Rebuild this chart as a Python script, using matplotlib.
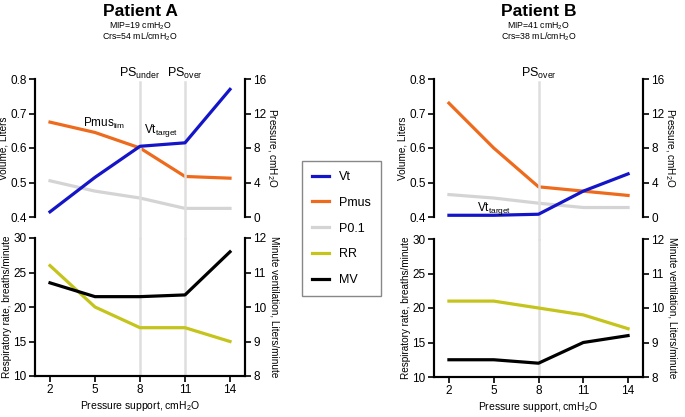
import matplotlib
matplotlib.use("Agg")
import matplotlib.pyplot as plt
from matplotlib.lines import Line2D

plt.rcParams['font.family'] = ['Liberation Sans', 'DejaVu Sans']
plt.rcParams['mathtext.default'] = 'regular'

# pressure support levels
ps = [2, 5, 8, 11, 14]

# Patient A
a_vt = [0.415, 0.515, 0.605, 0.615, 0.77]
a_pmus = [11.0, 9.8, 8.0, 4.7, 4.5]
a_p01 = [4.2, 3.0, 2.2, 1.0, 1.0]
a_rr = [26, 20, 17, 17, 15]
a_mv = [10.7, 10.3, 10.3, 10.35, 11.6]

# Patient B
b_vt = [0.405, 0.405, 0.408, 0.475, 0.525]
b_pmus = [13.2, 8.0, 3.5, 3.0, 2.5]
b_p01 = [2.6, 2.2, 1.6, 1.1, 1.1]
b_rr = [21, 21, 20, 19, 17]
b_mv = [8.5, 8.5, 8.4, 9.0, 9.2]

C_VT = '#1414c8'
C_PMUS = '#ee6a1c'
C_P01 = '#d4d4d4'
C_RR = '#c4c41c'
C_MV = '#000000'
C_GRID = '#dedede'
LW = 2.3
FS = 8.5
LFS = 7.2

W, H = 685, 417
fig = plt.figure(figsize=(W / 100, H / 100), dpi=100)


def box(l, t, r, b):
    return [l / W, 1 - b / H, (r - l) / W, (b - t) / H]


def style(ax, bottom=False):
    ax.spines['top'].set_visible(False)
    ax.spines['bottom'].set_visible(bottom)
    for s in ('left', 'right', 'bottom'):
        ax.spines[s].set_linewidth(1.5)
    ax.tick_params(labelsize=FS, width=1.2, length=4, pad=2, direction='out')


def panel(left, right, top_y, bot_y, vt, pmus, p01, rr, mv, ps_lines, title, sub):
    ax1 = fig.add_axes(box(left, top_y[0], right, top_y[1]))
    ax1r = ax1.twinx()
    ax2 = fig.add_axes(box(left, bot_y[0], right, bot_y[1]))
    ax2r = ax2.twinx()

    # gray lines marking PS levels, spanning both panels
    gap = (bot_y[0] - top_y[1]) / (top_y[1] - top_y[0])
    for x, lab in ps_lines:
        ax1.axvline(x, ymin=-gap, ymax=0.98, color=C_GRID, lw=1.8,
                    clip_on=False, zorder=0)
        ax2.axvline(x, color=C_GRID, lw=1.8, zorder=0)
        ax1.text(x, 0.806, lab, ha='center', va='baseline', fontsize=FS + 0.5)

    ax1r.plot(ps, p01, color=C_P01, lw=LW)
    ax1r.plot(ps, pmus, color=C_PMUS, lw=LW)
    ax1.plot(ps, vt, color=C_VT, lw=LW)
    ax1.set_zorder(ax1r.get_zorder() + 1)
    ax1.patch.set_visible(False)

    ax2.plot(ps, rr, color=C_RR, lw=LW)
    ax2r.plot(ps, mv, color=C_MV, lw=LW)

    for ax in (ax1, ax1r, ax2, ax2r):
        ax.set_xlim(1, 15)
    ax1.set_ylim(0.4, 0.8)
    ax1.set_yticks([0.4, 0.5, 0.6, 0.7, 0.8])
    ax1r.set_ylim(0, 16)
    ax1r.set_yticks([0, 4, 8, 12, 16])
    ax2.set_ylim(10, 30)
    ax2.set_yticks([10, 15, 20, 25, 30])
    ax2r.set_ylim(8, 12)
    ax2r.set_yticks([8, 9, 10, 11, 12])
    ax2.set_xticks(ps)
    ax1.set_xticks([])

    style(ax1)
    style(ax1r)
    style(ax2, bottom=True)
    style(ax2r, bottom=True)

    ax1.set_ylabel('Volume, Liters', fontsize=LFS, labelpad=1)
    ax1r.set_ylabel('Pressure, cmH$_2$O', fontsize=LFS, rotation=270,
                    labelpad=9)
    ax2.set_ylabel('Respiratory rate, breaths/minute', fontsize=LFS,
                   labelpad=1)
    ax2r.set_ylabel('Minute ventilation, Liters/minute', fontsize=LFS,
                    rotation=270, labelpad=9)
    ax2.set_xlabel('Pressure support, cmH$_2$O', fontsize=LFS + 0.3, labelpad=2)

    cx = (left + right) / 2 / W
    fig.text(cx, 1 - 12 / H, title, ha='center', va='center',
             fontsize=12.5, fontweight='bold')
    fig.text(cx, 1 - 26 / H, sub[0], ha='center', va='center', fontsize=6.3)
    fig.text(cx, 1 - 37 / H, sub[1], ha='center', va='center', fontsize=6.3)
    return ax1


axA = panel(35, 245, (79, 217), (238, 376), a_vt, a_pmus, a_p01, a_rr, a_mv,
            [(8, 'PS$_{under}$'), (11, 'PS$_{over}$')], 'Patient A',
            ('MIP=19 cmH$_2$O', 'Crs=54 mL/cmH$_2$O'))
axA.text(5.6, 0.672, 'Pmus$_{lim}$', ha='center', va='center', fontsize=FS)
axA.text(9.4, 0.65, 'Vt$_{target}$', ha='center', va='center', fontsize=FS)

axB = panel(434, 643, (79, 217), (239, 377), b_vt, b_pmus, b_p01, b_rr, b_mv,
            [(8, 'PS$_{over}$')], 'Patient B',
            ('MIP=41 cmH$_2$O', 'Crs=38 mL/cmH$_2$O'))
axB.text(5.0, 0.426, 'Vt$_{target}$', ha='center', va='center', fontsize=FS)

handles = [Line2D([], [], color=c, lw=LW) for c in (C_VT, C_PMUS, C_P01, C_RR, C_MV)]
fig.legend(handles, ['Vt', 'Pmus', 'P0.1', 'RR', 'MV'],
           loc='center', bbox_to_anchor=(341.5 / W, 1 - 228.5 / H),
           fontsize=FS + 0.5, handlelength=1.4, labelspacing=1.1,
           borderpad=0.8, fancybox=False, edgecolor='#888888', framealpha=1)

fig.savefig('out.png', dpi=100)
